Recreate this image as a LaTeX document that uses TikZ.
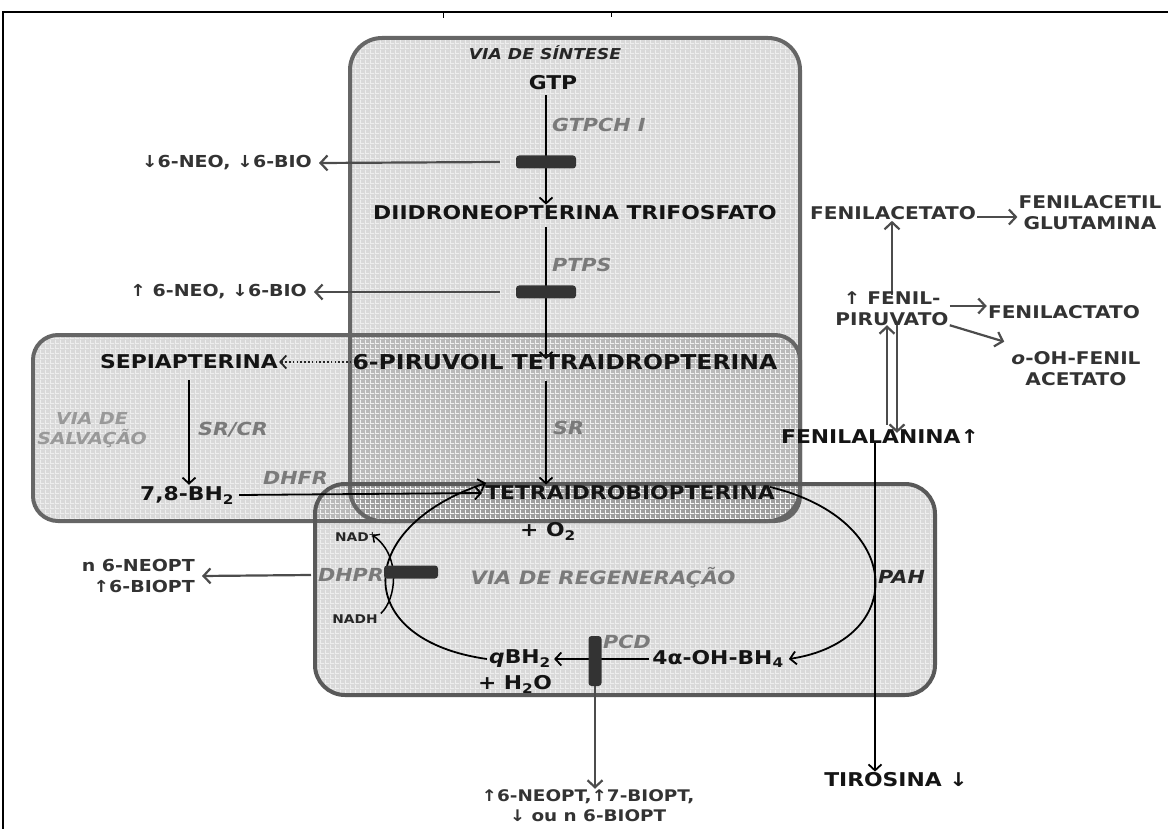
\documentclass[tikz,border=0pt]{standalone}
\usepackage{fontspec}
\setmainfont{DejaVu Sans}[FakeStretch=1.15]
\usetikzlibrary{arrows.meta,patterns}
\pgfdeclarelayer{bg}
\pgfdeclarelayer{mid}
\pgfsetlayers{bg,mid,main}
\pgfdeclarepatternformonly{mygrid}{\pgfpointorigin}{\pgfqpoint{5pt}{5pt}}{\pgfqpoint{5pt}{5pt}}{%
  \pgfsetlinewidth{1pt}%
  \pgfpathmoveto{\pgfqpoint{0pt}{0.5pt}}\pgfpathlineto{\pgfqpoint{5pt}{0.5pt}}%
  \pgfpathmoveto{\pgfqpoint{0.5pt}{0pt}}\pgfpathlineto{\pgfqpoint{0.5pt}{5pt}}%
  \pgfusepath{stroke}}
\definecolor{enzgray}{HTML}{7A7A7A}
\definecolor{boxline}{HTML}{666666}
\definecolor{sidetext}{HTML}{333333}
\begin{document}
\begin{tikzpicture}[x=1pt,y=-1pt,
  met/.style={font=\bfseries\fontsize{19}{22}\selectfont, text=black!92, inner sep=1pt},
  small/.style={font=\bfseries\fontsize{12}{14}\selectfont, text=black!85, inner sep=1pt},
  enz/.style={font=\bfseries\itshape\fontsize{18}{21}\selectfont, text=enzgray, inner sep=1pt},
  lab/.style={font=\bfseries\fontsize{16.5}{21}\selectfont, text=sidetext, inner sep=1pt, align=center},
  side/.style={font=\bfseries\fontsize{17.5}{21}\selectfont, text=sidetext, inner sep=1pt, align=center},
  bar/.style={fill=black!80, rounded corners=3pt, inner sep=0pt},
  arr/.style={-{Straight Barb[length=6pt,width=13pt,line width=1.8pt]}, line width=1.8pt, black},
  garr/.style={-{Straight Barb[length=7pt,width=15pt,line width=2.2pt]}, line width=2.2pt, black!70},
  boxfill/.style={fill=black, fill opacity=0.15},
  boxtex/.style={pattern=mygrid, pattern color=white, opacity=0.55},
]
\useasboundingbox (0,0) rectangle (1168,829);
% frame
\draw[line width=1.4pt] (3,829) -- (3,12) -- (1168,12);
\draw[line width=1pt] (443,12) -- (443,18) (611,12) -- (611,17);

% boxes
\begin{pgfonlayer}{bg}
\fill[boxfill, rounded corners=32pt] (350,38) rectangle (800,521);
\fill[boxfill, rounded corners=25pt] (33,335) rectangle (800,521);
\fill[boxfill, rounded corners=30pt] (315,484) rectangle (935,695);
\fill[boxtex, rounded corners=32pt] (350,38) rectangle (800,521);
\fill[boxtex, rounded corners=25pt] (33,335) rectangle (800,521);
\fill[boxtex, rounded corners=30pt] (315,484) rectangle (935,695);
\draw[boxline, line width=4pt, rounded corners=25pt] (33,335) rectangle (800,521);
\draw[boxline, line width=4pt, rounded corners=32pt] (350,38) rectangle (800,521);
\draw[black!65, line width=4pt, rounded corners=30pt] (315,484) rectangle (935,695);
\end{pgfonlayer}

% titles
\node[font=\bfseries\itshape\fontsize{15}{18}\selectfont, text=black!85] (tsin) at (545,53) {VIA DE SÍNTESE};
\node[font=\bfseries\itshape\fontsize{16.5}{20}\selectfont, text=black!40, align=center] (tsal) at (92,430) {VIA DE\\SALVAÇÃO};
\node[enz, font=\bfseries\itshape\fontsize{18.5}{21}\selectfont] (treg) at (603,578) {VIA DE REGENERAÇÃO};

% metabolites
\node[met] (gtp) at (553,83) {GTP};
\node[met] (dnt) at (575,213) {DIIDRONEOPTERINA TRIFOSFATO};
\node[met, font=\bfseries\fontsize{20.5}{23}\selectfont] (pir) at (565,362) {6-PIRUVOIL TETRAIDROPTERINA};
\node[met] (sep) at (189,362) {SEPIAPTERINA};
\node[met] (bh2) at (187,495) {7,8-BH\textsubscript{2}};
\node[met] (bh4) at (630,493) {TETRAIDROBIOPTERINA};
\node[met] (o2) at (548,531) {+ O\textsubscript{2}};
\node[met] (oh) at (718,659) {4α-OH-BH\textsubscript{4}};
\node[met] (qbh) at (520,659) {\textit{q}BH\textsubscript{2}};
\node[met] (h2o) at (515,684) {+ H\textsubscript{2}O};
\node[small] (nadp) at (356,537) {NAD\textsuperscript{+}};
\node[small] (nadh) at (355,619) {NADH};

% enzymes
\node[enz, anchor=west] (e1) at (551,125) {GTPCH I};
\node[enz, anchor=west] (e2) at (551,265) {PTPS};
\node[enz, anchor=west] (e3) at (197,430) {SR/CR};
\node[enz, anchor=west] (e4) at (552,428) {SR};
\node[enz, anchor=west] (e5) at (262,478) {DHFR};
\node[enz, anchor=west] (e6) at (317,575) {DHPR};
\node[enz, anchor=west] (e7) at (602,642) {PCD};
\node[enz, text=black!85, anchor=west] (e8) at (877,577) {PAH};

% side labels
\node[lab, anchor=east] (l1) at (313,163) {↓6-NEO, ↓6-BIO};
\node[lab, anchor=east] (l2) at (308,292) {↑ 6-NEO, ↓6-BIO};
\node[lab, anchor=east, align=right] (l3) at (196,576) {n 6-NEOPT\\↑6-BIOPT};
\node[lab, font=\bfseries\fontsize{16}{20}\selectfont] (l4) at (588,806) {↑6-NEOPT,↑7-BIOPT,\\↓ ou n 6-BIOPT};

% right side
\node[side] (fac) at (893,213) {FENILACETATO};
\node[side] (fag) at (1090,213) {FENILACETIL\\GLUTAMINA};
\node[side] (fpv) at (892,309) {↑ FENIL-\\PIRUVATO};
\node[side] (flt) at (1064,312) {FENILACTATO};
\node[side] (ofa) at (1076,369) {\textit{o}-OH-FENIL\\ACETATO};
\node[met] (phe) at (880,437) {FENILALANINA↑};
\node[met] (tyr) at (896,780) {TIROSINA ↓};

% enzyme bars
\node[bar, minimum width=60pt, minimum height=13pt] (b1) at (546,162) {};
\node[bar, minimum width=60pt, minimum height=13pt] (b2) at (546,292) {};
\node[bar, minimum width=54pt, minimum height=13pt] (b3) at (411,572) {};
\node[bar, minimum width=13pt, minimum height=50pt] (b4) at (595,661) {};

\begin{pgfonlayer}{mid}
% synthesis
\draw[arr] (gtp.south -| b1) ++(0,4) -- (dnt.north -| b1);
\draw[arr] (dnt.south -| b2) ++(0,6) -- ([yshift=-6pt]pir.north -| b2);
\draw[arr] (pir.south -| b1) ++(0,10) -- (bh4.north -| b1);
\draw[garr] ([xshift=-16pt]b1.west) -- ([xshift=6pt]l1.east);
\draw[garr] ([xshift=-16pt]b2.west) -- ([xshift=6pt]l2.east);
% salvage
\draw[-{Straight Barb[length=6pt,width=13pt,line width=1.8pt]}, line width=1.8pt, black!85, dash pattern=on 1.6pt off 2.2pt] (pir.west) -- (sep.east);
\draw[arr] (sep.south) ++(0,10) -- (sep.south |- bh2.north);
\draw[arr] ([xshift=4pt]bh2.east) -- ([xshift=-2pt]bh4.west);
% regeneration
\draw[arr] ([shift={(-6pt,6pt)}]bh4.east) .. controls (907,520) and (907,641) .. ([xshift=4pt]oh.east);
\draw[arr] ([xshift=-2pt]oh.west) -- ([xshift=2pt]qbh.east);
\draw[garr, line width=1.8pt] (b4.south) -- (b4.south |- l4.north);
\draw[arr] ([xshift=-1pt]qbh.west) .. controls (352,640) and (352,528) .. ([shift={(2pt,10pt)}]bh4.west);
\draw[arr, line width=1.5pt, -{Straight Barb[length=5pt,width=10pt,line width=1.5pt]}] ([xshift=2pt]nadh.north east) .. controls (396,600) and (402,556) .. ([shift={(-6pt,2pt)}]nadp.east);
\draw[garr] ([xshift=-6pt]e6.west) -- ([xshift=6pt]l3.east);
% phenylalanine side
\draw[garr] ([yshift=-4pt]fac.east) -- ([yshift=-4pt]fac.east -| fag.west);
\draw[garr] ([yshift=-4pt]fpv.north) -- (fpv.north |- fac.south);
\draw[garr] ([yshift=3pt]fpv.east) -- ([yshift=3pt]fpv.east -| flt.west);
\draw[garr] ([shift={(0pt,2pt)}]fpv.south east) -- ([shift={(-6pt,9pt)}]ofa.north west);
\coordinate (upx) at ([xshift=-5pt]fpv.south);
\coordinate (dnx) at ([xshift=5pt]fpv.south);
\draw[garr] (upx |- phe.north) ++(0,-4) -- ([yshift=2pt]upx);
\draw[garr] ([yshift=2pt]dnx) -- ([yshift=-4pt]dnx |- phe.north);
\draw[arr, line width=2pt] ([shift={(-5pt,4pt)}]phe.south) -- ([xshift=-5pt]phe.south |- tyr.north);
\end{pgfonlayer}
\end{tikzpicture}
\end{document}
